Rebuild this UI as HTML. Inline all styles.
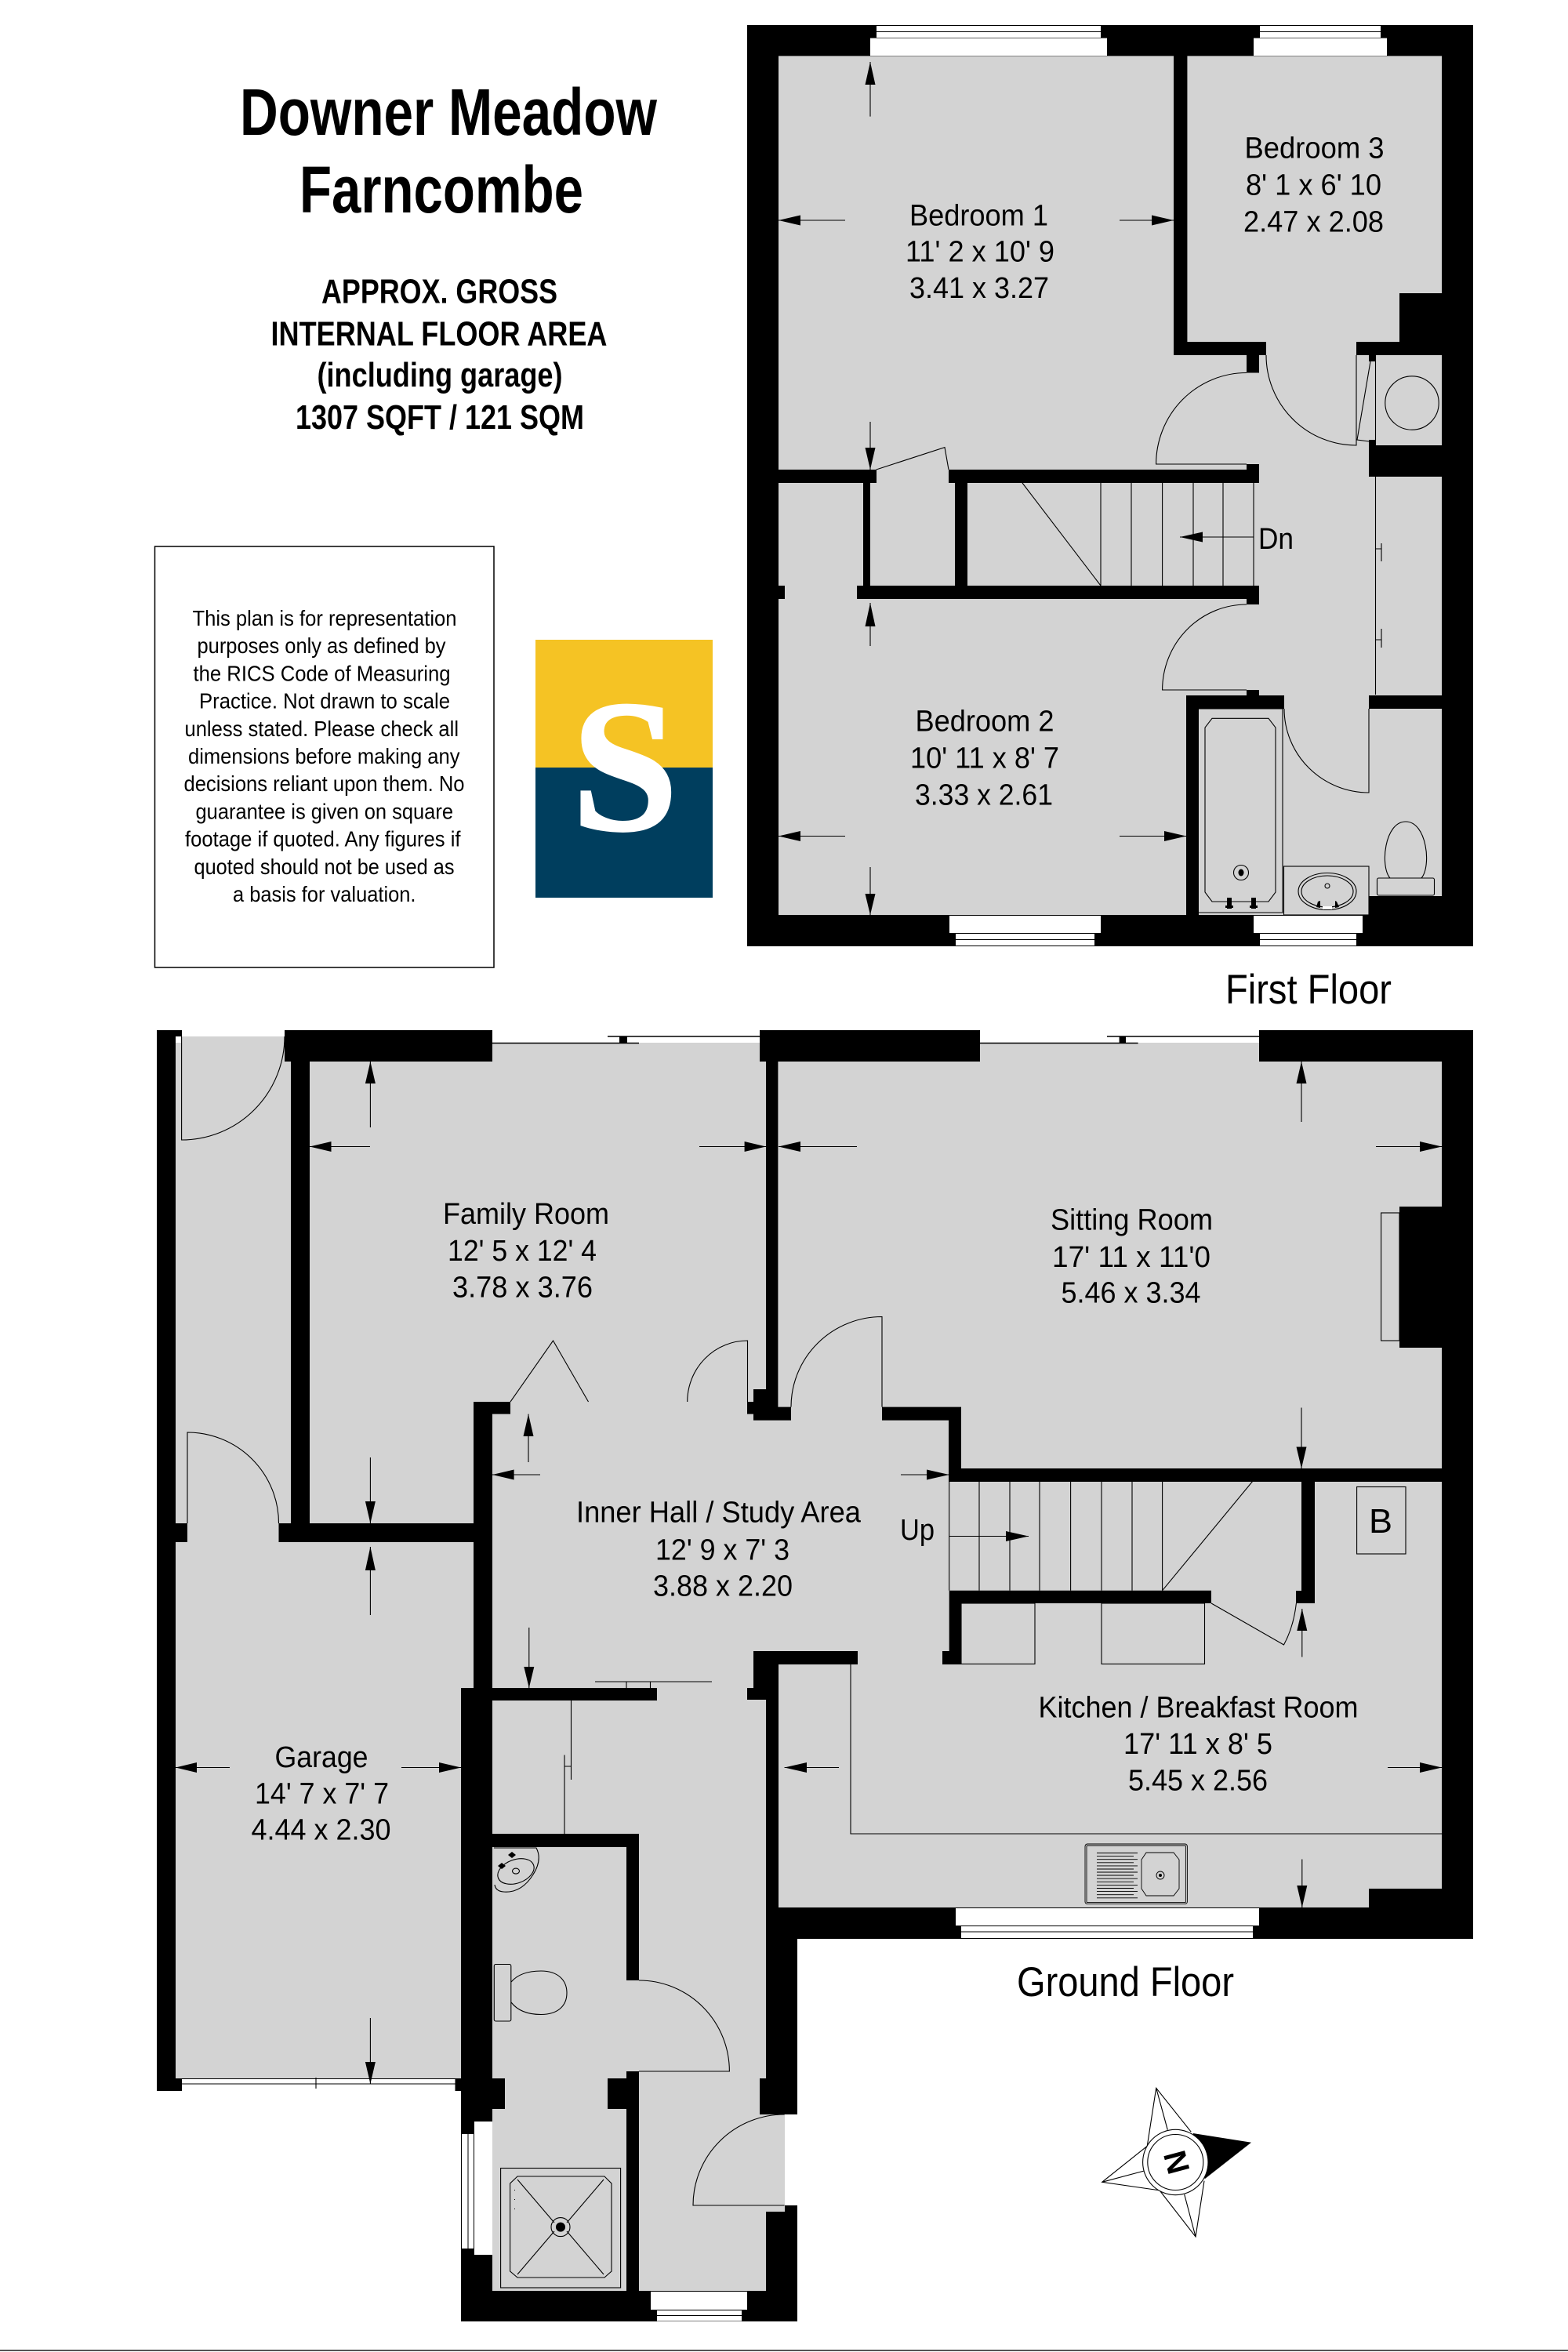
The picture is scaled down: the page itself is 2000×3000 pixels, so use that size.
<!DOCTYPE html>
<html><head><meta charset="utf-8"><title>Downer Meadow Floorplan</title>
<style>html,body{margin:0;padding:0;background:#fff;width:2000px;height:3000px;overflow:hidden}svg{display:block}
text{font-family:"Liberation Sans",Arial,sans-serif;fill:#000}
.r{font-size:38px}.n{font-size:28px}.t{font-size:84px;font-weight:bold}.s{font-size:43.6px;font-weight:bold}.f{font-size:53px}
</style></head><body>
<svg xmlns="http://www.w3.org/2000/svg" width="2000" height="3000" viewBox="0 0 2000 3000">
<rect width="2000" height="3000" fill="#fff"/>
<!-- heading -->
<g>
<text class="t" x="306" y="172" textLength="532" lengthAdjust="spacingAndGlyphs">Downer Meadow</text>
<text class="t" x="382" y="271" textLength="362" lengthAdjust="spacingAndGlyphs">Farncombe</text>
<text class="s" x="410" y="386.7" textLength="301" lengthAdjust="spacingAndGlyphs">APPROX. GROSS</text>
<text class="s" x="345.5" y="440.7" textLength="429" lengthAdjust="spacingAndGlyphs">INTERNAL FLOOR AREA</text>
<text class="s" x="404.5" y="493" textLength="313" lengthAdjust="spacingAndGlyphs">(including garage)</text>
<text class="s" x="377" y="547" textLength="368" lengthAdjust="spacingAndGlyphs">1307 SQFT / 121 SQM</text>
</g>
<!-- notice -->
<rect x="197.5" y="697" width="432.5" height="537" fill="#fff" stroke="#000" stroke-width="1.5"/>
<g>
<text class="n" x="245.5" y="798" textLength="337" lengthAdjust="spacingAndGlyphs">This plan is for representation</text>
<text class="n" x="251.5" y="833.2" textLength="317" lengthAdjust="spacingAndGlyphs">purposes only as defined by</text>
<text class="n" x="246.5" y="868.4" textLength="328" lengthAdjust="spacingAndGlyphs">the RICS Code of Measuring</text>
<text class="n" x="254" y="903.6" textLength="320" lengthAdjust="spacingAndGlyphs">Practice. Not drawn to scale</text>
<text class="n" x="235.5" y="938.8" textLength="349.5" lengthAdjust="spacingAndGlyphs">unless stated. Please check all</text>
<text class="n" x="240" y="974" textLength="346.5" lengthAdjust="spacingAndGlyphs">dimensions before making any</text>
<text class="n" x="234.5" y="1009.2" textLength="358" lengthAdjust="spacingAndGlyphs">decisions reliant upon them. No</text>
<text class="n" x="249.5" y="1044.4" textLength="328.5" lengthAdjust="spacingAndGlyphs">guarantee is given on square</text>
<text class="n" x="236" y="1079.6" textLength="351.5" lengthAdjust="spacingAndGlyphs">footage if quoted. Any figures if</text>
<text class="n" x="247.5" y="1114.8" textLength="332" lengthAdjust="spacingAndGlyphs">quoted should not be used as</text>
<text class="n" x="297" y="1150" textLength="233.5" lengthAdjust="spacingAndGlyphs">a basis for valuation.</text>
</g>
<!-- logo -->
<rect x="683" y="816" width="226" height="163" fill="#F5C324"/>
<rect x="683" y="979" width="226" height="166" fill="#003E5E"/>
<text x="729" y="1058" font-size="240" font-weight="bold" style="font-family:'Liberation Serif',serif;fill:#fff;stroke:#fff;stroke-width:3" textLength="136" lengthAdjust="spacingAndGlyphs">S</text>

<!-- FIRST FLOOR -->
<rect x="953" y="32" width="926" height="1175" fill="#d3d3d3"/>
<path fill="#000" d="M953 32H1879V71.4H953Z M953 1167H1879V1207H953Z M953 32H993V1207H953Z M1839 32H1879V1207H1839Z
M1497 71H1514.4V453H1497Z M1497 436H1615V453H1497Z M1730 436H1839V453H1730Z M1785 374H1839V436H1785Z
M1590 453H1606V475.5H1590Z M1590 592H1606V616H1590Z M1746 453H1754V461H1746Z M1746 561H1754V568H1746Z M1746 568H1839V608H1746Z
M993 599H1118V616H993Z M1210 599H1606V616H1210Z M1101 616H1110V747H1101Z M1218 616H1234V747H1218Z
M1093 747H1606V764H1093Z M993 747H1001V764H993Z M1590 764H1606V771H1590Z M1590 880H1606V887H1590Z
M1513 887H1638V904H1513Z M1513 887H1529V1167H1513Z M1746 887H1839V904H1746Z M1746 1143H1839V1167H1746Z"/>
<!-- first floor windows -->
<path fill="#fff" d="M1110 48.6H1412V71H1110Z M1118 33H1404V40H1118Z M1118 41H1404V48H1118Z
M1599 48.6H1769V71H1599Z M1607 33H1761V40H1607Z M1607 41H1761V48H1607Z
M1211 1168H1404V1190H1211Z M1219 1191H1396V1198H1219Z M1219 1199H1396V1206H1219Z
M1599 1168H1738V1190H1599Z M1607 1191H1730V1198H1607Z M1607 1199H1730V1206H1607Z"/>
<!-- first floor thin lines -->
<g fill="none" stroke="#000" stroke-width="1.1">
<path d="M1590 475.5A115.5 116.5 0 0 0 1474.6 592H1590"/>
<path d="M1615 453A115 115 0 0 0 1730 568V453"/>
<path d="M1748 461L1731 561L1746 563"/>
<circle cx="1801" cy="514" r="34.2"/>
<path d="M1754.5 453V568"/>
<path d="M1117.6 599L1205 570.6L1210 599"/>
<path d="M1590 771A107.5 109 0 0 0 1482.6 880H1590"/>
<path d="M1638 904A108 107 0 0 0 1746 1011V904"/>
<path d="M1404 616V747M1443 616V747M1482.6 616V747M1522 616V747M1560 616V747M1599 616V747"/>
<path d="M1304 616L1404 747"/>
<path d="M1754.5 608V886M1762 693V716M1754.5 700H1762M1762 802V826M1754.5 816H1762"/>
<!-- bath -->
<path d="M1529 904H1636V1164H1529"/>
<path d="M1546 916.3H1618L1627 928V1138L1618 1150H1546L1537 1138V928Z"/>
<circle cx="1583" cy="1113" r="9.5"/>
<rect x="1637.5" y="1105" width="108.5" height="62"/>
<ellipse cx="1693" cy="1137" rx="37" ry="23.5"/>
<ellipse cx="1693" cy="1137" rx="33" ry="20"/>
<circle cx="1693" cy="1130" r="3"/>
<path d="M1773 1120C1760 1105 1766 1048 1793 1048C1820 1048 1826 1105 1813 1120"/>
<rect x="1756.5" y="1120" width="73" height="22" rx="2"/>
</g>
<ellipse cx="1583" cy="1113" rx="3.5" ry="4.5"/>
<path fill="#000" d="M1565 1145H1571V1155H1573V1158H1571V1159H1565V1158H1563V1155H1565Z M1596 1145H1602V1155H1604V1158H1602V1159H1596V1158H1594V1155H1596Z"/>
<path fill="#000" d="M1681 1150L1684 1149V1158L1679 1157Z M1703 1149L1705 1150L1708 1157L1703 1158Z"/>
<rect x="1687" y="1156" width="12" height="4" fill="#fff"/>
<!-- first floor dims -->
<path fill="none" stroke="#000" stroke-width="1.1" d="M1110 79V148.6M1110 538V599M993 281H1078M1428 281H1497M1110 769V824M1110 1106V1167M993 1066.5H1078M1428 1066.5H1513M1505 685H1599"/>
<path fill="#000" d="M1110 79L1103.5 108H1116.5Z M1110 599L1103.5 571H1116.5Z M993 281L1021 274.5V287.5Z M1497 281L1469 274.5V287.5Z M1110 769L1103.5 799H1116.5Z M1110 1167L1103.5 1140H1116.5Z M993 1066.5L1021 1060V1073Z M1513 1066.5L1485 1060V1073Z M1505 685L1534 678.5V691.5Z"/>
<text class="r" x="1160" y="287.5" textLength="177" lengthAdjust="spacingAndGlyphs">Bedroom 1</text>
<text class="r" x="1155" y="333.5" textLength="190" lengthAdjust="spacingAndGlyphs">11' 2 x 10' 9</text>
<text class="r" x="1160" y="380" textLength="178" lengthAdjust="spacingAndGlyphs">3.41 x 3.27</text>
<text class="r" x="1587.5" y="201.6" textLength="178" lengthAdjust="spacingAndGlyphs">Bedroom 3</text>
<text class="r" x="1589" y="248.6" textLength="173" lengthAdjust="spacingAndGlyphs">8' 1 x 6' 10</text>
<text class="r" x="1586" y="295.5" textLength="179" lengthAdjust="spacingAndGlyphs">2.47 x 2.08</text>
<text class="r" x="1167.5" y="932.6" textLength="177" lengthAdjust="spacingAndGlyphs">Bedroom 2</text>
<text class="r" x="1161" y="979.6" textLength="190" lengthAdjust="spacingAndGlyphs">10' 11 x 8' 7</text>
<text class="r" x="1167" y="1026.5" textLength="176" lengthAdjust="spacingAndGlyphs">3.33 x 2.61</text>
<text class="r" x="1605" y="700" textLength="45" lengthAdjust="spacingAndGlyphs">Dn</text>
<text class="f" x="1563" y="1280" textLength="212" lengthAdjust="spacingAndGlyphs">First Floor</text>

<!-- GROUND FLOOR -->
<path fill="#d3d3d3" d="M224 1330H1839V2433H1001V2922H628V2651H224Z M232 1322H363V1330H232Z M977 2697H1001V2821H977Z"/>
<path fill="#000" d="M200 1314H224V2667H200Z M200 1314H232V1322H200Z M200 2651H232V2667H200Z M200 1943H239V1967H200Z
M371 1314H395V1967H371Z M363 1314H628V1354H363Z M355.5 1943H628V1967H355.5Z M604 1788H628V2153H604Z M604 1788H651V1803.6H604Z
M969 1314H1250V1354H969Z M977 1354H992.4V1811H977Z M961 1772H977V1811.6H961Z M953 1788H961V1803.6H953Z M977 1794.6H1009V1811.6H977Z
M1125 1794.6H1226V1811.6H1125Z M1210 1794.6H1226V1890H1210Z M1210 1873H1839V1890H1210Z M1606 1314H1879V1354H1606Z M1839 1314H1879V2473H1839Z M1785 1539H1839V1719H1785Z
M1660 1890H1677V2045H1660Z M1653 2029H1677V2045H1653Z M1210.7 2028.7H1545V2045H1210.7Z M1210.7 2045H1226V2123H1210.7Z M1202 2106H1226V2123H1202Z
M961 2106H1094V2123H961Z M961 2106H993V2153H961Z M953 2153H993V2168H953Z M977 2168H993V2433H977Z M1746 2409H1839V2433H1746Z M977 2433H1879V2473H977Z
M977 2433H1017V2697H977Z M969 2651H1017V2697H969Z M1001 2813H1017V2961H1001Z M977 2821H1017V2961H977Z
M588 2153H628V2706H588Z M628 2153H838V2169H628Z M628 2339H815V2356H628Z M799 2339H815V2526H799Z M799 2642H815V2961H799Z M775 2651H815V2690H775Z M628 2651H644V2690H628Z
M580.5 2651H588V2667H580.5Z M588 2706H605V2961H588Z M605 2876H628V2961H605Z M588 2922H1017V2961H588Z
M790 1322H800V1330H790Z M1427.6 1322H1436V1330H1427.6Z"/>
<!-- ground windows -->
<path fill="#fff" d="M1219 2434H1606V2456H1219Z M1226 2457H1598V2463.5H1226Z M1226 2464.5H1598V2472H1226Z
M830 2923H953V2946H830Z M838 2947H946V2953H838Z M838 2954H946V2960.5H838Z
M605 2706H628V2876H605Z M589 2722H596.5V2868H589Z M597.5 2722H604V2868H597.5Z"/>
<rect x="232" y="2651" width="348.5" height="7.5" fill="#fff"/>
<g fill="none" stroke="#000" stroke-width="1.1">
<path d="M232 2651.5H580.5M232 2658H580.5M403 2650V2664"/>
<path d="M628 1330.5H815M775 1322H970M1250 1330.5H1451.6M1412 1322H1606" stroke-width="1.5"/>
<path d="M231.6 1322V1454A131.4 132 0 0 0 363 1322"/>
<path d="M239 1943V1827A116.5 116 0 0 1 355.5 1943"/>
<path d="M876.7 1788A76.8 78 0 0 1 953.5 1710V1788"/>
<path d="M651 1788L705.5 1710L750.5 1788"/>
<path d="M1009 1794.6A116 115.1 0 0 1 1125 1679.5V1794.6"/>
<path d="M815 2526A115.4 116 0 0 1 930.4 2642H815"/>
<path d="M1000.6 2697A116.6 116 0 0 0 884 2813H1000.6"/>
<path d="M1545 2045L1637.5 2098Q1650 2075 1653.4 2045"/>
<rect x="1761.6" y="1547" width="23.4" height="163"/>
<path d="M1210.7 1890V2028.7M1249 1890V2028.7M1288 1890V2028.7M1326 1890V2028.7M1365.6 1890V2028.7M1405 1890V2028.7M1444 1890V2028.7M1482.6 1890V2028.7"/>
<path d="M1482.6 2028.7L1598 1889"/>
<rect x="1226" y="2045" width="94" height="77.4"/>
<rect x="1405" y="2045" width="131.5" height="77.4"/>
<rect x="1730.6" y="1896.5" width="62.4" height="85.5"/>
<path d="M1085 2123V2339H1839"/>
<path d="M759 2145H908M799 2145V2153M829.5 2145V2153"/>
<path d="M728.5 2169V2270M720 2238.5V2339M720 2253H728.5"/>
<!-- sink -->
<g stroke-width="0.9">
<rect x="1384" y="2352" width="130.4" height="76.6" rx="3"/>
<rect x="1386" y="2354" width="126.4" height="72.6" rx="1"/>
<path d="M1399 2363.5H1451M1399 2367.6H1446M1399 2371.7H1451M1399 2375.8H1446M1399 2379.9H1451M1399 2384H1446M1399 2388H1451M1399 2392H1446M1399 2396.2H1451M1399 2400.3H1446M1399 2404.4H1451M1399 2408.5H1446M1399 2412.6H1451M1399 2416.7H1446M1399 2420.8H1451"/>
<path d="M1462 2363H1497L1504 2372V2409L1497 2418H1462L1456 2409V2372Z"/>
<circle cx="1480" cy="2392" r="5"/>
</g>
<!-- wc basin -->
<path d="M630 2357H684Q692 2372 680 2391Q665 2415 642 2413Q632 2412 631 2404"/>
<ellipse cx="658" cy="2387" rx="24" ry="15" transform="rotate(-20 658 2387)"/>
<ellipse cx="658" cy="2386.6" rx="4.5" ry="3.5"/>
<!-- wc toilet -->
<rect x="630.3" y="2505.5" width="21.5" height="72.5" rx="2"/>
<path d="M652 2528Q664 2514 690 2514C712 2514 723 2526 723 2542C723 2558 712 2569.5 690 2569.5Q664 2569.5 652 2554"/>
<!-- shower -->
<rect x="638.6" y="2765.5" width="153" height="152.5"/>
<path d="M660 2776H771L780 2785V2897L771 2905H660L650.6 2897V2785Z"/>
<path d="M660 2780L707 2835M770 2780L723 2835M660 2901L707 2846M770 2901L723 2846"/>
<circle cx="715" cy="2840.6" r="12"/>
</g>
<circle cx="715" cy="2840.6" r="6" fill="#000"/>
<circle cx="1480" cy="2392" r="2" fill="#000"/>
<path fill="#000" d="M653 2362L658 2366L653 2370L648 2366Z M640 2376L645 2380L640 2384L635 2380Z M656 2793h1v1h-1Z M656 2805h1v1h-1Z M656 2817h1v1h-1Z"/>
<!-- ground dims -->
<path fill="none" stroke="#000" stroke-width="1.1" d="M472.4 1354V1438M472.4 1859V1943M395 1462.5H472M892 1462.5H977M993 1462.5H1093M1755 1462.5H1839M1660 1354V1431M1660 1795.5V1873M674 1803.6V1865M628 1881H689M1149 1881H1210.6M674.8 2076V2153M224 2254.5H293M512 2254.5H588M472.4 1973V2060M472.4 2574V2658M1660.8 2052V2113.5M1660.8 2371.5V2433M1000.6 2254.5H1070M1770 2254.5H1839M1210.7 1959.5H1312"/>
<path fill="#000" d="M472.4 1354L465.9 1382H478.9Z M472.4 1943L465.9 1915H478.9Z M395 1462.5L422.5 1456V1469Z M977 1462.5L949.6 1456V1469Z
M993 1462.5L1021 1456V1469Z M1839 1462.5L1811 1456V1469Z M1660 1354L1653.5 1382H1666.5Z M1660 1873L1653.5 1845.5H1666.5Z
M674 1803.6L667.5 1832H680.5Z M628 1881L655.6 1874.5V1887.5Z M1210.6 1881L1182 1874.5V1887.5Z M674.8 2153L668.3 2126H681.3Z
M224 2254.5L251 2248V2261Z M588 2254.5L560 2248V2261Z M472.4 1973L465.9 2003H478.9Z M472.4 2658L465.9 2630H478.9Z
M1660.8 2052L1654.3 2080H1667.3Z M1660.8 2433L1654.3 2405H1667.3Z M1000.6 2254.5L1029 2248V2261Z M1839 2254.5L1811 2248V2261Z M1312 1959.5L1283 1953V1966Z"/>
<text class="r" x="565" y="1561" textLength="212" lengthAdjust="spacingAndGlyphs">Family Room</text>
<text class="r" x="571" y="1608" textLength="190" lengthAdjust="spacingAndGlyphs">12' 5 x 12' 4</text>
<text class="r" x="577" y="1654.5" textLength="179" lengthAdjust="spacingAndGlyphs">3.78 x 3.76</text>
<text class="r" x="1340" y="1568.7" textLength="207" lengthAdjust="spacingAndGlyphs">Sitting Room</text>
<text class="r" x="1342" y="1616" textLength="202" lengthAdjust="spacingAndGlyphs">17' 11 x 11'0</text>
<text class="r" x="1353.5" y="1661.6" textLength="178" lengthAdjust="spacingAndGlyphs">5.46 x 3.34</text>
<text class="r" x="735" y="1941.5" textLength="363" lengthAdjust="spacingAndGlyphs">Inner Hall / Study Area</text>
<text class="r" x="836" y="1989.5" textLength="171" lengthAdjust="spacingAndGlyphs">12' 9 x 7' 3</text>
<text class="r" x="833" y="2035.5" textLength="178" lengthAdjust="spacingAndGlyphs">3.88 x 2.20</text>
<text class="r" x="350.5" y="2254" textLength="119" lengthAdjust="spacingAndGlyphs">Garage</text>
<text class="r" x="325" y="2300.5" textLength="171" lengthAdjust="spacingAndGlyphs">14' 7 x 7' 7</text>
<text class="r" x="320.5" y="2346.5" textLength="178" lengthAdjust="spacingAndGlyphs">4.44 x 2.30</text>
<text class="r" x="1324.5" y="2190.7" textLength="408" lengthAdjust="spacingAndGlyphs">Kitchen / Breakfast Room</text>
<text class="r" x="1433" y="2237" textLength="190" lengthAdjust="spacingAndGlyphs">17' 11 x 8' 5</text>
<text class="r" x="1439" y="2283.6" textLength="178" lengthAdjust="spacingAndGlyphs">5.45 x 2.56</text>
<text class="r" x="1148" y="1964" textLength="44" lengthAdjust="spacingAndGlyphs">Up</text>
<text class="f" x="1746" y="1955" textLength="30" lengthAdjust="spacingAndGlyphs" style="font-size:44px">B</text>
<text class="f" x="1297" y="2546" textLength="277" lengthAdjust="spacingAndGlyphs">Ground Floor</text>
<!-- compass -->
<path fill="#000" d="M1521.7 2721L1596 2732.7L1536.7 2779.3Z"/>
<g fill="none" stroke="#000" stroke-width="1.1">
<path d="M1463.3 2737L1474.7 2663.3L1519.3 2719.3M1474.7 2663.3L1489.3 2716.7"/>
<path d="M1480 2795L1525 2853L1536 2781.7M1525 2853L1510.7 2799"/>
<path d="M1463.3 2737.3L1405.7 2783.3L1480 2794M1405.7 2783.3L1459.3 2769"/>
<circle cx="1499.3" cy="2758" r="41.7" fill="#fff"/>
<circle cx="1499.3" cy="2758" r="35.5"/>
</g>
<text transform="translate(1501 2758) rotate(75)" x="0" y="14" text-anchor="middle" font-size="40" font-weight="bold">N</text>
<rect x="0" y="2997" width="2000" height="2" fill="#555"/>
</svg>
</body></html>
